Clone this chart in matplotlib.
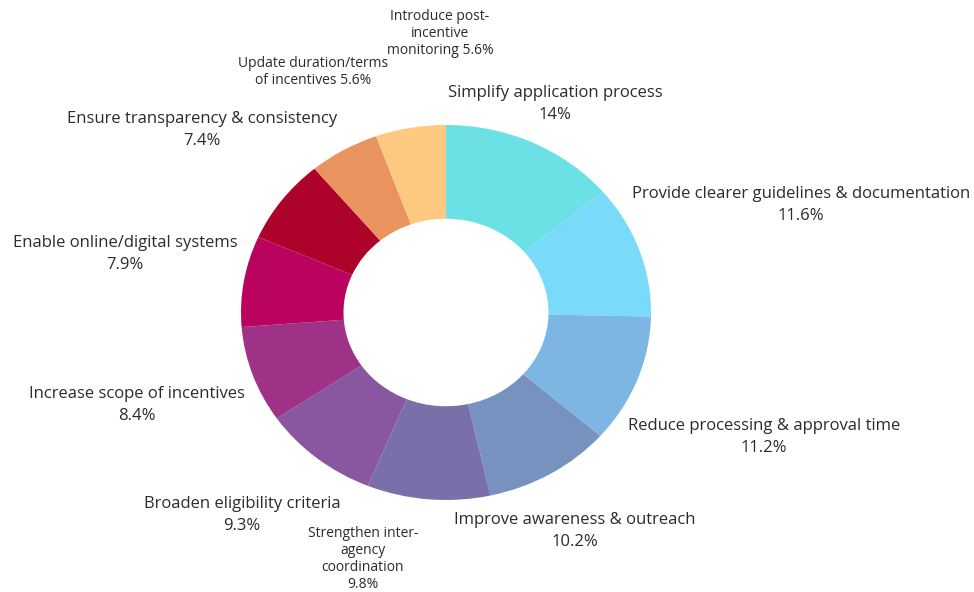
import matplotlib
matplotlib.use("Agg")
import matplotlib.pyplot as plt

categories = [
    "Simplify application process",
    "Provide clearer guidelines & documentation",
    "Reduce processing & approval time",
    "Improve awareness & outreach",
    "Strengthen inter-\nagency\ncoordination",
    "Broaden eligibility criteria",
    "Increase scope of incentives",
    "Enable online/digital systems",
    "Ensure transparency & consistency",
    "Update duration/terms\nof incentives",
    "Introduce post-\nincentive\nmonitoring",
]
shares = [14.0, 11.6, 11.2, 10.2, 9.8, 9.3, 8.4, 7.9, 7.4, 5.6, 5.6]
share_text = ["14%", "11.6%", "11.2%", "10.2%", "9.8%", "9.3%", "8.4%",
              "7.9%", "7.4%", "5.6%", "5.6%"]
colors = ["#6BE1E5", "#7ADAF9", "#7DB6E3", "#7892C0", "#7970AA", "#8957A0",
          "#9E3286", "#B9035F", "#AD0229", "#E9935E", "#FDC880"]

# label anchor (pixel x, pixel y of first line centre), font size, value on same line
label_layout = [
    (555, 93, 12, False),
    (801, 194, 12, False),
    (764, 426, 12, False),
    (575, 520, 12, False),
    (363, 534, 10, False),
    (242, 504, 12, False),
    (137, 394, 12, False),
    (125, 243, 12, False),
    (202, 119, 12, False),
    (313, 64, 10, True),
    (440, 17, 10, True),
]

W, H = 974, 592
fig = plt.figure(figsize=(W / 100, H / 100), dpi=100)
fig.patch.set_facecolor("white")

# donut occupies a slightly wide box
left, right, top, bottom = 241, 651, 125, 500
ax = fig.add_axes([left / W, 1 - bottom / H, (right - left) / W, (bottom - top) / H])
ax.pie(shares, colors=colors, startangle=90, counterclock=False,
       wedgeprops=dict(width=0.5, linewidth=0), radius=1.0)
ax.set_aspect("auto")
ax.set_xlim(-1, 1)
ax.set_ylim(-1, 1)
ax.axis("off")

font = ["Open Sans", "DejaVu Sans"]
txt_color = "#2b2b2b"
for cat, val, (px, py, fs, inline) in zip(categories, share_text, label_layout):
    text = f"{cat} {val}" if inline else f"{cat}\n{val}"
    n = text.count("\n") + 1
    step = 22 if fs >= 12 else 16.7
    ls = 1.45 if fs >= 12 else 1.2
    cy = py + (n - 1) * step / 2
    fig.text(px / W, 1 - cy / H, text, ha="center", va="center",
             fontsize=fs, color=txt_color, family=font, linespacing=ls)

fig.savefig("out.png", dpi=100, facecolor="white")
